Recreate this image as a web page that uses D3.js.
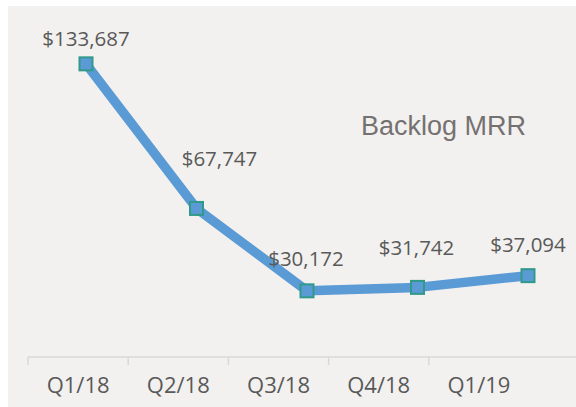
<!DOCTYPE html>
<html>
<head>
<meta charset="utf-8">
<title>Backlog MRR</title>
<script src="https://cdn.jsdelivr.net/npm/d3@7/dist/d3.min.js"></script>
<style>
  body { margin: 0; background: #fff; }
  svg { display: block; }
  .val { font-family: "Open Sans", sans-serif; font-size: 20.5px; fill: #595959; text-anchor: middle; }
  .cat { font-family: "Open Sans", sans-serif; font-size: 22px; fill: #595959; }
  .title { font-family: "Liberation Sans", Arial, sans-serif; font-size: 27px; fill: #767171; }
</style>
</head>
<body>
<div id="chart"></div>
<script>
// data
var quarters = ["Q1/18", "Q2/18", "Q3/18", "Q4/18", "Q1/19"];
var backlog = [133687, 67747, 30172, 31742, 37094];
// small label nudges (px) - labels were hand placed in the original
var labelDx = [0, 23, -1, -1, 0];
var labelDy = [-18, -42, -25, -32, -24];

var width = 576, height = 407;

var svg = d3.select("#chart").append("svg")
  .attr("width", width)
  .attr("height", height);

// chart area background
svg.append("rect")
  .attr("x", 8).attr("y", 6)
  .attr("width", width - 8).attr("height", height - 6)
  .attr("fill", "#f2f1ef");

var xBand = d3.scaleBand().domain(quarters).range([28, 529]);   // category axis
var x = d3.scalePoint().domain(quarters).range([86, 528]);      // line points
var y = d3.scaleLinear().domain([0, 140000]).range([357, 50]);

// x axis
var axisY = y(0);
var axis = svg.append("g")
  .attr("transform", "translate(0," + axisY + ")")
  .call(d3.axisBottom(xBand).tickSize(0).tickPadding(20));
axis.select(".domain").remove();
axis.selectAll("text").attr("class", "cat").attr("fill", null).attr("font-size", null).attr("font-family", null);

axis.append("line")
  .attr("x1", 28).attr("x2", width)
  .attr("y1", 0).attr("y2", 0)
  .attr("stroke", "#d9d9d9").attr("stroke-width", 1.5);

axis.selectAll(".tickmark")
  .data(quarters)
  .enter().append("line")
  .attr("class", "tickmark")
  .attr("x1", function(d){ return xBand(d); })
  .attr("x2", function(d){ return xBand(d); })
  .attr("y1", 0).attr("y2", 8)
  .attr("stroke", "#d9d9d9").attr("stroke-width", 1.5);

var pts = quarters.map(function(q, i){ return {q: q, v: backlog[i], i: i}; });

// line
var line = d3.line()
  .x(function(d){ return x(d.q); })
  .y(function(d){ return y(d.v); });

svg.append("path")
  .datum(pts)
  .attr("d", line)
  .attr("fill", "none")
  .attr("stroke", "#5b9bd5")
  .attr("stroke-width", 9.5)
  .attr("stroke-linejoin", "round");

// markers
var ms = 13;
svg.selectAll(".marker")
  .data(pts)
  .enter().append("rect")
  .attr("class", "marker")
  .attr("x", function(d){ return x(d.q) - ms / 2; })
  .attr("y", function(d){ return y(d.v) - ms / 2; })
  .attr("width", ms).attr("height", ms)
  .attr("fill", "#5b9bd5")
  .attr("stroke", "#31998a")
  .attr("stroke-width", 2);

// value labels
svg.selectAll(".val")
  .data(pts)
  .enter().append("text")
  .attr("class", "val")
  .attr("x", function(d){ return x(d.q) + labelDx[d.i]; })
  .attr("y", function(d){ return y(d.v) + labelDy[d.i]; })
  .text(function(d){ return "$" + d3.format(",")(d.v); });

// title
svg.append("text")
  .attr("class", "title")
  .attr("x", 361).attr("y", 135)
  .text("Backlog MRR");
</script>
</body>
</html>
